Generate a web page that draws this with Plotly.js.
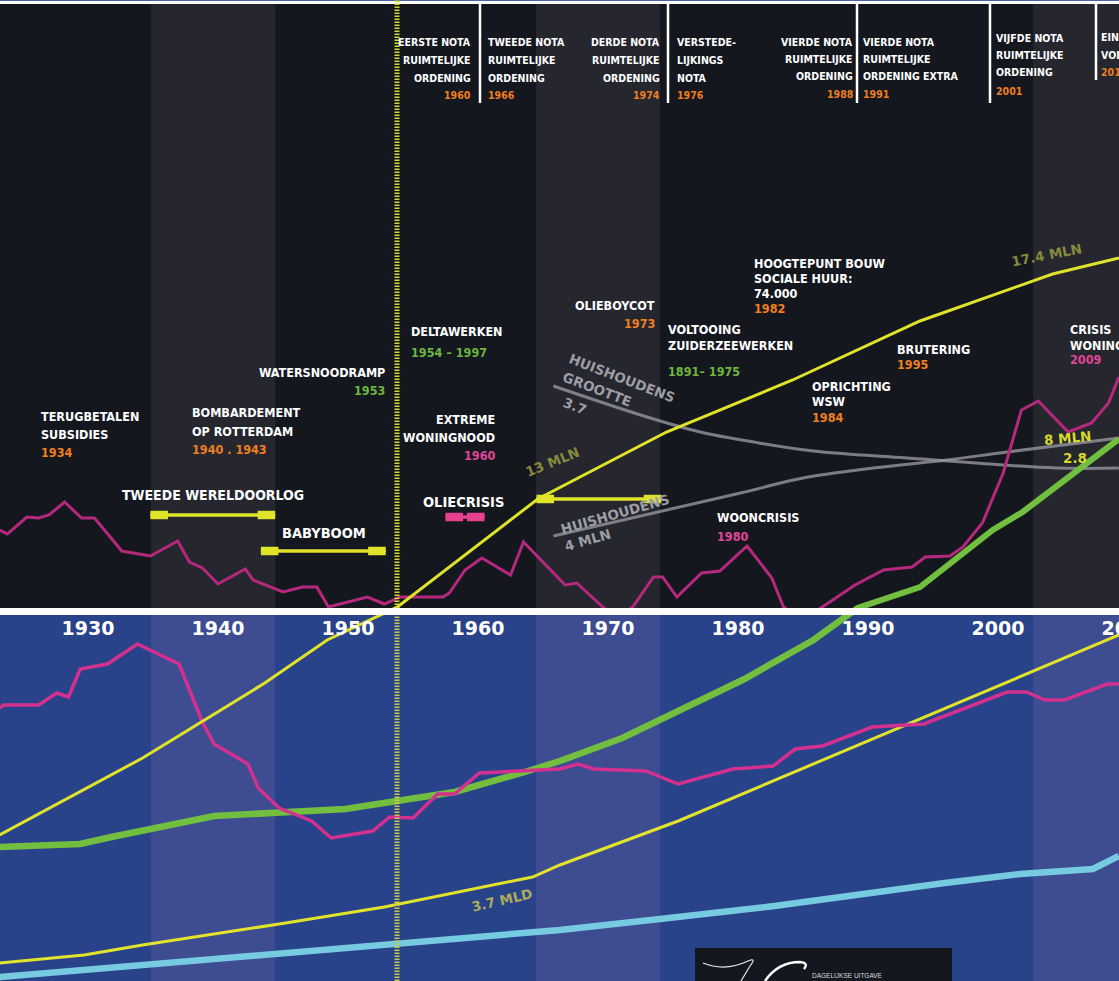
<!DOCTYPE html>
<html><head><meta charset="utf-8">
<script src="https://cdn.plot.ly/plotly-3.0.1.min.js"></script>
<style>html,body{margin:0;padding:0;background:#fff;overflow:hidden}#chart{width:1119px;height:981px}</style>
</head><body><div id="chart"></div>
<script>
// ---------- DATA (years, relative index level) ----------
const popYears   = [1923.2, 1934.2, 1943.6, 1948.4, 1953.8, 1964.6, 1974.5, 1984.2, 1994.0, 2004.2, 2009.3];
const popValues  = [14.6, 22.3, 29.8, 34.1, 37.4, 48.2, 54.9, 60.1, 66.0, 70.7, 72.3];

const stockYears  = [1923.2, 1929.4, 1931.8, 1939.7, 1949.8, 1953.5, 1958.2, 1963.6, 1966.3, 1971.1, 1980.5, 1985.8, 1989.2, 1994.0, 1999.6, 2001.9, 2009.3];
const stockValues = [13.4, 13.7, 14.4, 16.5, 17.2, 17.9, 18.9, 20.9, 22.0, 24.3, 30.2, 34.1, 37.3, 39.4, 45.1, 46.9, 54.2];

const shortageYears  = [1923.2, 1923.8, 1925.3, 1926.2, 1927.0, 1928.2, 1929.5, 1930.5, 1932.6, 1934.8, 1936.9, 1937.8, 1938.8, 1940.0, 1942.1, 1942.7, 1945.0, 1946.5, 1947.6, 1948.5, 1951.5, 1952.8, 1954.0, 1957.3, 1957.8, 1959.0, 1960.3, 1962.5, 1963.5, 1966.7, 1967.6, 1969.6, 1970.8, 1971.9, 1973.5, 1974.2, 1975.3, 1977.2, 1978.6, 1980.7, 1982.6, 1983.5, 1985.0, 1986.5, 1989.0, 1991.2, 1993.4, 1994.4, 1996.3, 1997.3, 1998.8, 2000.4, 2001.8, 2003.1, 2005.4, 2007.2, 2008.5, 2009.3];
const shortageValues = [45.1, 44.7, 46.4, 46.3, 46.6, 47.9, 46.3, 46.3, 43.0, 42.5, 44.0, 41.9, 41.3, 39.7, 41.2, 40.1, 38.9, 39.4, 39.4, 37.4, 38.4, 37.7, 38.4, 38.4, 38.8, 41.1, 42.3, 40.6, 43.9, 39.6, 39.8, 37.4, 36.3, 37.4, 40.4, 40.4, 38.4, 40.8, 41.0, 43.5, 40.3, 37.4, 36.1, 37.4, 39.6, 41.1, 41.4, 42.4, 42.5, 43.4, 45.8, 50.8, 57.1, 58.0, 54.9, 55.8, 57.8, 60.4];

const priceYears  = [1923.2, 1923.5, 1926.2, 1927.6, 1928.5, 1929.4, 1931.5, 1933.8, 1937.0, 1938.8, 1939.7, 1942.3, 1943.1, 1944.7, 1947.2, 1948.7, 1951.9, 1953.2, 1955.0, 1956.9, 1958.2, 1960.1, 1966.3, 1967.7, 1968.9, 1972.9, 1975.4, 1979.6, 1982.7, 1984.4, 1986.5, 1990.3, 1994.3, 2000.7, 2002.2, 2003.6, 2005.1, 2008.4, 2009.3];
const priceValues = [27.3, 27.6, 27.6, 28.8, 28.4, 31.2, 31.7, 33.7, 31.7, 25.9, 23.7, 21.7, 19.3, 17.3, 16.0, 14.3, 15.0, 16.4, 16.3, 18.7, 18.7, 20.8, 21.2, 21.7, 21.2, 21.0, 19.7, 21.2, 21.5, 23.2, 23.5, 25.4, 25.7, 28.9, 28.9, 28.1, 28.1, 29.7, 29.7];

const worldYears  = [1923.2, 1929.7, 1934.2, 1945.2, 1952.8, 1964.2, 1966.3, 1975.4, 2009.3];
const worldValues = [1.8, 2.6, 3.6, 5.8, 7.4, 10.4, 11.6, 16.0, 34.6];

const cyanYears  = [1923.2, 1966.3, 1974.0, 1982.8, 1995.9, 2001.7, 2007.3, 2009.3];
const cyanValues = [0.4, 5.1, 6.2, 7.5, 9.8, 10.7, 11.2, 12.5];

const hhSizeYears  = [1965.8, 1973.0, 1977.1, 1981.2, 1985.8, 1993.0, 2004.5, 2009.3];
const hhSizeValues = [59.5, 56.4, 54.9, 53.9, 53.0, 52.3, 51.3, 51.3];

const hhYears  = [1965.8, 1980.2, 1985.0, 1990.4, 1996.1, 2000.7, 2009.3];
const hhValues = [44.5, 48.8, 50.3, 51.3, 52.1, 52.9, 54.3];

// periods: [start, end, level]
const periodWWII     = [1934.8, 1944.4, 46.6];
const periodBabyboom = [1943.3, 1952.9, 43.0];
const periodPopOil   = [1964.5, 1974.1, 48.2];
const periodOilCrisis= [1957.5, 1960.5, 46.4];

const decadeYears  = [1930, 1940, 1950, 1960, 1970, 1980, 1990, 2000, 2010];
const decadeLabels = ['1930','1940','1950','1960','1970','1980','1990','2000','2010'];

const watersnoodYear = 1953.77;
const bandPeriods = [[1934.85, 1944.4], [1964.46, 1974.0], [2002.7, 2009.5]];

// ---------- LAYOUT HELPERS ----------
const W = 1119, H = 981;
const PX = p => p / W;
const PY = p => 1 - p / H;
const NARROW = '"Liberation Sans Narrow", "DejaVu Sans Condensed", "Arial Narrow", sans-serif';
const WIDE = '"DejaVu Sans", "Liberation Sans", sans-serif';
const WHITE = '#ffffff', ORANGE = '#ef7f1f', GREEN = '#6db63d', PINK = '#e0469a';

function line(x, y, axis, color, width, shape) {
  return {type:'scatter', mode:'lines', x, y, yaxis:axis, hoverinfo:'skip',
          line:{color, width, shape: shape || 'linear'}};
}
const CAP = 1.35;
function periodBar(p, color, axis) {
  const [a, b, lv] = p;
  return [
    {type:'scatter', mode:'lines', x:[a, b], y:[lv, lv], yaxis:axis, hoverinfo:'skip', line:{color, width:3.5}},
    {type:'scatter', mode:'lines', x:[a, a + CAP, null, b - CAP, b], y:[lv, lv, null, lv, lv], yaxis:axis,
     hoverinfo:'skip', connectgaps:false, line:{color, width:8.5}}
  ];
}

const traces = [
  line(hhSizeYears, hhSizeValues, 'y', 'rgba(150,150,158,0.8)', 3, 'spline'),
  line(hhYears, hhValues, 'y', 'rgba(150,150,158,0.8)', 3, 'spline'),
  line(shortageYears, shortageValues, 'y', '#b5287d', 3),
  line(popYears, popValues, 'y', '#dfe32a', 3),
  line(stockYears, stockValues, 'y', '#72bf3f', 6),
  line(cyanYears, cyanValues, 'y2', '#76cbe0', 6.5),
  line(worldYears, worldValues, 'y2', '#e1e42a', 3),
  line(stockYears, stockValues, 'y2', '#72bf3f', 6.5),
  line(priceYears, priceValues, 'y2', '#d4308f', 3.5),
  line(popYears, popValues, 'y2', '#dfe32a', 3),
  ...periodBar(periodWWII, '#dfe32a', 'y'),
  ...periodBar(periodBabyboom, '#dfe32a', 'y'),
  ...periodBar(periodPopOil, '#dfe32a', 'y'),
  ...periodBar(periodOilCrisis, '#e8418f', 'y'),
  {type:'scatter', mode:'text', x:decadeYears, y:decadeYears.map(() => 35.1), yaxis:'y2', text:decadeLabels,
   textposition:'middle center', cliponaxis:true, hoverinfo:'skip',
   textfont:{family:WIDE, size:19, color:WHITE, weight:700}}
];

// ---------- SHAPES ----------
const shapes = [];
const rect = (x0,x1,y0,y1,fill,xref,layer) => ({type:'rect', xref:xref||'paper', yref:'paper', x0, x1, y0, y1,
  fillcolor:fill, line:{width:0}, layer:layer||'below'});
shapes.push(rect(0, 1, PY(608), PY(4), '#15171f'));
shapes.push(rect(0, 1, 0, PY(615), '#29438b'));
shapes.push(rect(0, 1, PY(1), 1, '#4a64a8'));
bandPeriods.forEach(([a, b]) => {
  shapes.push(rect(a, b, PY(608), PY(4), '#25262e', 'x'));
  shapes.push(rect(a, b, 0, PY(615), '#3e4c92', 'x'));
});
// watersnood marker
shapes.push({type:'line', xref:'x', yref:'paper', x0:watersnoodYear, x1:watersnoodYear, y0:PY(608), y1:1,
  line:{color:'#d4d82c', width:5, dash:'1.5px,1.5px'}, layer:'above'});
shapes.push({type:'line', xref:'x', yref:'paper', x0:watersnoodYear, x1:watersnoodYear, y0:0, y1:PY(616),
  line:{color:'#c9c94a', width:5, dash:'1.5px,1.5px'}, layer:'above'});
// note separators
[[480,103],[668,103],[857,103],[990,103],[1096,80]].forEach(([x, b]) => {
  shapes.push({type:'line', xref:'paper', yref:'paper', x0:PX(x), x1:PX(x), y0:PY(b), y1:PY(4),
    line:{color:WHITE, width:2.5}, layer:'above'});
});
// logo block
shapes.push(rect(PX(695), PX(952), 0, PY(948), '#15171f', 'paper', 'above'));
const P = (x, y) => PX(x).toFixed(5) + ',' + PY(y).toFixed(5);
shapes.push({type:'path', xref:'paper', yref:'paper', layer:'above', line:{color:'#e8e8ee', width:1.2},
  path:`M ${P(703,963)} Q ${P(725,972)} ${P(748,961)} Q ${P(757,957)} ${P(750,966)} L ${P(741,981)}`});
shapes.push({type:'path', xref:'paper', yref:'paper', layer:'above', line:{color:'#ffffff', width:2.5},
  path:`M ${P(765,981)} Q ${P(778,962)} ${P(800,962)} Q ${P(809,963)} ${P(804,969)}`});

// ---------- ANNOTATIONS ----------
const annotations = [];
function label(lines, px, anchor, size, family) {
  lines.forEach(([t, py, c]) => annotations.push({xref:'paper', yref:'paper', x:PX(px), y:PY(py),
    xanchor:anchor, yanchor:'middle', text:t, showarrow:false, borderpad:0,
    font:{family:family || NARROW, size, color:c || WHITE, weight:700}}));
}
const NS = 10.5;
const noteY = [42.5, 60, 77.5, 95];
label([['EERSTE NOTA',noteY[0]],['RUIMTELIJKE',noteY[1]],['ORDENING',noteY[2]],['1960',noteY[3],ORANGE]], 472, 'right', NS);
label([['TWEEDE NOTA',noteY[0]],['RUIMTELIJKE',noteY[1]],['ORDENING',noteY[2]],['1966',noteY[3],ORANGE]], 487, 'left', NS);
label([['DERDE NOTA',noteY[0]],['RUIMTELIJKE',noteY[1]],['ORDENING',noteY[2]],['1974',noteY[3],ORANGE]], 661, 'right', NS);
label([['VERSTEDE-',noteY[0]],['LIJKINGS',noteY[1]],['NOTA',noteY[2]],['1976',noteY[3],ORANGE]], 676, 'left', NS);
label([['VIERDE NOTA',42],['RUIMTELIJKE',59],['ORDENING',76.5],['1988',94.5,ORANGE]], 854, 'right', NS);
label([['VIERDE NOTA',42],['RUIMTELIJKE',59],['ORDENING EXTRA',76.5],['1991',94.5,ORANGE]], 862, 'left', NS);
label([['VIJFDE NOTA',38],['RUIMTELIJKE',55],['ORDENING',72],['2001',91,ORANGE]], 995, 'left', NS);
label([['EINDE',37],['VOLKSHUISVESTING',55],['2010',72,ORANGE]], 1100, 'left', NS);

const ES = 12.5;
label([['TERUGBETALEN',416],['SUBSIDIES',434],['1934',452,ORANGE]], 40, 'left', ES);
label([['BOMBARDEMENT',412.5],['OP ROTTERDAM',431],['1940 . 1943',449,ORANGE]], 191, 'left', ES);
label([['WATERSNOODRAMP',372],['1953',390.5,GREEN]], 386, 'right', ES);
label([['DELTAWERKEN',332],['1954 – 1997',352.5,GREEN]], 410, 'left', ES);
label([['EXTREME',419],['WONINGNOOD',437.5],['1960',455,PINK]], 496, 'right', ES);
label([['OLIEBOYCOT',305.5],['1973',323.5,ORANGE]], 656, 'right', ES);
label([['VOLTOOING',329],['ZUIDERZEEWERKEN',345],['1891– 1975',371,GREEN]], 667, 'left', ES);
label([['HOOGTEPUNT BOUW',263],['SOCIALE HUUR:',278.5],['74.000',293],['1982',308.5,ORANGE]], 753, 'left', ES);
label([['OPRICHTING',386],['WSW',401],['1984',417,ORANGE]], 811, 'left', ES);
label([['BRUTERING',349],['1995',364.5,ORANGE]], 896, 'left', ES);
label([['WOONCRISIS',517.5],['1980',536,PINK]], 716, 'left', ES);
label([['CRISIS',329],['WONINGMARKT',345],['2009',359.5,PINK]], 1069, 'left', ES);
label([['TWEEDE WERELDOORLOG',495]], 213, 'center', 14);
label([['BABYBOOM',533]], 324, 'center', 14.5);
label([['OLIECRISIS',501.5]], 463, 'center', 14.5);

// rotated series labels
const GREY = '#9d9da6', OLIVE = '#878a3b';
[['HUISHOUDENS',622,378,21,GREY],['GROOTTE',597,389,21,GREY],['3.7',575,406,21,GREY],
 ['HUISHOUDENS',615,514,-16,GREY],['4 MLN',587,540,-16,GREY],
 ['13 MLN',552,462,-22,OLIVE],['17.4 MLN',1046,255,-11,OLIVE],
 ['8 MLN',1067,438,-5,'#d5d92a'],['2.8',1075,458,0,'#d5d92a'],['3.7 MLD',502,900,-13,'#aeab5c']
].forEach(([t,x,y,a,c]) => annotations.push({xref:'paper', yref:'paper', x:PX(x), y:PY(y), xanchor:'center',
  yanchor:'middle', text:t, textangle:a, showarrow:false, borderpad:0,
  font:{family:WIDE, size:13.5, color:c, weight:700}}));

annotations.push({xref:'paper', yref:'paper', x:PX(811), y:PY(975), xanchor:'left', yanchor:'middle',
  text:'DAGELIJKSE UITGAVE', showarrow:false, borderpad:0,
  font:{family:'"Liberation Sans", sans-serif', size:6.5, color:'#d8d8e0'}});

const layout = {
  width:W, height:H, margin:{l:0, r:0, t:0, b:0, pad:0},
  paper_bgcolor:'#ffffff', plot_bgcolor:'rgba(0,0,0,0)', showlegend:false, hovermode:false,
  xaxis:{range:[1923.2308, 2009.3077], visible:false, fixedrange:true, anchor:'y2'},
  yaxis:{domain:[1 - 608/H, 1 - 4/H], range:[37.3, 97.7], visible:false, fixedrange:true, anchor:'x'},
  yaxis2:{domain:[0, 1 - 615/H], range:[0, 36.6], visible:false, fixedrange:true, anchor:'x'},
  shapes, annotations
};
Plotly.newPlot('chart', traces, layout, {displayModeBar:false, staticPlot:true});
</script></body></html>
